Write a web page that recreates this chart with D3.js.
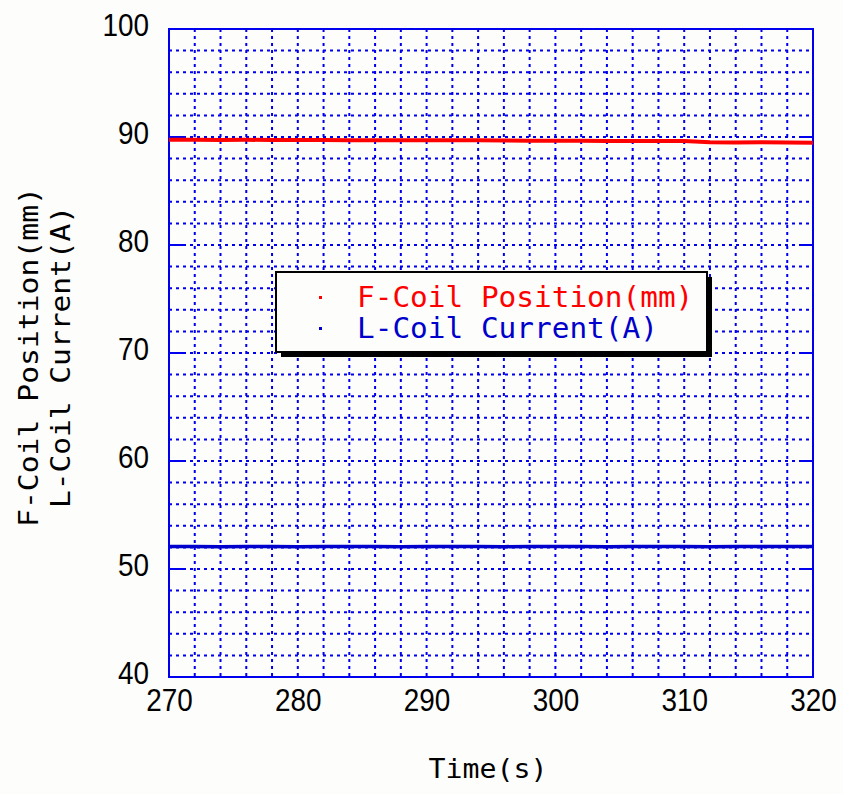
<!DOCTYPE html>
<html>
<head>
<meta charset="utf-8">
<script src="https://cdn.jsdelivr.net/npm/d3@7"></script>
<style>
  body { margin: 0; background: #fdfdfb; }
</style>
</head>
<body>
<div id="chart"></div>
<script>
// sample times (s)
var times = [270, 272, 274, 276, 278, 280, 282, 284, 286, 288, 290, 292, 294,
             296, 298, 300, 302, 304, 306, 308, 310, 312, 314, 316, 318, 320];
// F-Coil position (mm)
var fCoil = [89.75, 89.74, 89.73, 89.74, 89.72, 89.72, 89.73, 89.71, 89.70, 89.71, 89.70, 89.69, 89.70,
             89.68, 89.66, 89.65, 89.65, 89.64, 89.64, 89.63, 89.62, 89.52, 89.50, 89.51, 89.48, 89.47];
// L-Coil current (A)
var lCoil = [52.08, 52.08, 52.07, 52.08, 52.08, 52.07, 52.08, 52.08, 52.08, 52.07, 52.08, 52.08, 52.08,
             52.07, 52.08, 52.08, 52.08, 52.07, 52.08, 52.08, 52.08, 52.07, 52.08, 52.08, 52.08, 52.08];
var seriesNames = ["F-Coil Position(mm)", "L-Coil Current(A)"];
var seriesColors = ["#ff0000", "#0000cc"];
var xTicks = [270, 280, 290, 300, 310, 320];
var yTicks = [40, 50, 60, 70, 80, 90, 100];

var margin = {top: 29, right: 30, bottom: 117, left: 169},
    width = 813 - margin.left,
    height = 677 - margin.top;

var svg = d3.select("#chart")
  .append("svg")
    .attr("width", 843)
    .attr("height", 794)
  .append("g")
    .attr("transform", "translate(" + margin.left + "," + margin.top + ")");

var x = d3.scaleLinear().domain([270, 320]).range([0, width]);
var y = d3.scaleLinear().domain([40, 100]).range([height, 0]);

// dashed minor grid, every 2 units
var gridX = d3.range(272, 320, 2);
var gridY = d3.range(42, 100, 2);
svg.selectAll(".gx").data(gridX).enter().append("line")
  .attr("x1", d => x(d)).attr("x2", d => x(d))
  .attr("y1", 0).attr("y2", height)
  .attr("stroke", "#0000ee").attr("stroke-width", 2)
  .attr("stroke-dasharray", "3,4");
svg.selectAll(".gy").data(gridY).enter().append("line")
  .attr("y1", d => y(d)).attr("y2", d => y(d))
  .attr("x1", 0).attr("x2", width)
  .attr("stroke", "#0000ee").attr("stroke-width", 2)
  .attr("stroke-dasharray", "3,4");

// inner major ticks on both sides
svg.selectAll(".tl").data(yTicks).enter().append("line")
  .attr("x1", 0).attr("x2", 14)
  .attr("y1", d => y(d)).attr("y2", d => y(d))
  .attr("stroke", "#0000ee").attr("stroke-width", 2);
svg.selectAll(".tr").data(yTicks).enter().append("line")
  .attr("x1", width - 14).attr("x2", width)
  .attr("y1", d => y(d)).attr("y2", d => y(d))
  .attr("stroke", "#0000ee").attr("stroke-width", 2);

// frame
svg.append("rect")
  .attr("width", width).attr("height", height)
  .attr("fill", "none").attr("stroke", "#0000ee").attr("stroke-width", 2);

// axes (labels only)
var yAxis = svg.append("g").call(d3.axisLeft(y).tickValues(yTicks).tickSize(0).tickPadding(20));
var xAxis = svg.append("g").attr("transform", "translate(0," + height + ")")
  .call(d3.axisBottom(x).tickValues(xTicks).tickSize(0).tickPadding(11));
[yAxis, xAxis].forEach(function(a) {
  a.select(".domain").remove();
  a.selectAll("text")
    .attr("font-family", "Liberation Sans, Arial, sans-serif")
    .attr("font-size", 32)
    .attr("fill", "#000")
    .attr("textLength", function(d) { return String(d).length * 15.5; })
    .attr("lengthAdjust", "spacingAndGlyphs");
});
yAxis.selectAll("text").attr("dy", "0.2em");
xAxis.selectAll("text").attr("dy", "0.72em");

// lines
var line = d3.line().x((d, i) => x(times[i])).y(d => y(d));
svg.append("path").datum(lCoil)
  .attr("d", line).attr("fill", "none")
  .attr("stroke", seriesColors[1]).attr("stroke-width", 3.5);
svg.append("path").datum(fCoil)
  .attr("d", line).attr("fill", "none")
  .attr("stroke", seriesColors[0]).attr("stroke-width", 4);

// legend
var lg = svg.append("g").attr("transform", "translate(" + (276 - margin.left) + "," + (272 - margin.top) + ")");
lg.append("rect").attr("x", 5).attr("y", 5).attr("width", 431).attr("height", 80).attr("fill", "#000");
lg.append("rect").attr("width", 431).attr("height", 80)
  .attr("fill", "#fdfdfb").attr("stroke", "#000").attr("stroke-width", 2);
seriesNames.forEach(function(name, i) {
  lg.append("rect").attr("x", 43).attr("y", 24 + i * 31).attr("width", 3).attr("height", 3)
    .attr("fill", seriesColors[i]);
  lg.append("text")
    .attr("x", 81).attr("y", 35 + i * 31)
    .attr("font-family", "DejaVu Sans Mono, monospace")
    .attr("font-size", 28)
    .attr("fill", seriesColors[i])
    .attr("textLength", name.length * 17.7)
    .attr("lengthAdjust", "spacingAndGlyphs")
    .text(name);
});

// axis titles
var root = d3.select("svg");
root.append("text")
  .attr("x", 488).attr("y", 778)
  .attr("text-anchor", "middle")
  .attr("font-family", "DejaVu Sans Mono, monospace")
  .attr("font-size", 26)
  .attr("textLength", 119).attr("lengthAdjust", "spacingAndGlyphs")
  .text("Time(s)");
root.append("text")
  .attr("transform", "translate(38,357) rotate(-90)")
  .attr("text-anchor", "middle")
  .attr("font-family", "DejaVu Sans Mono, monospace")
  .attr("font-size", 26)
  .attr("textLength", 340).attr("lengthAdjust", "spacingAndGlyphs")
  .text(seriesNames[0]);
root.append("text")
  .attr("transform", "translate(70,357) rotate(-90)")
  .attr("text-anchor", "middle")
  .attr("font-family", "DejaVu Sans Mono, monospace")
  .attr("font-size", 26)
  .attr("textLength", 302).attr("lengthAdjust", "spacingAndGlyphs")
  .text(seriesNames[1]);
</script>
</body>
</html>
